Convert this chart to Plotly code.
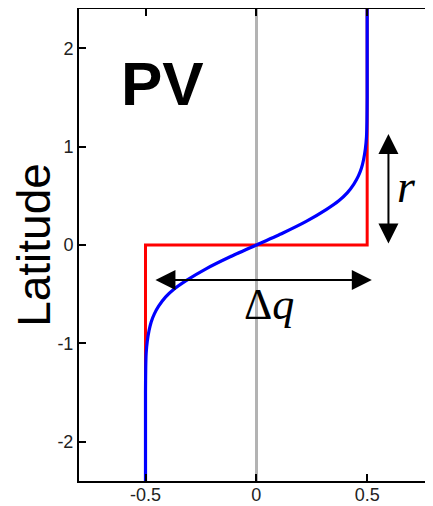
import plotly.graph_objects as go

# red step profile (PV jump)
red_lat = [-2.4, 0.0, 0.0, 2.4]
red_pv = [-0.5, -0.5, 0.5, 0.5]

# blue smoothed profile
blue_lat = [-2.4, -1.5, -1.25, -1.1, -0.98, -0.87, -0.78, -0.7, -0.62, -0.53, -0.45,
            -0.36, -0.24, -0.12, 0.0, 0.12, 0.24, 0.36, 0.45, 0.53, 0.62, 0.7, 0.78,
            0.87, 0.98, 1.1, 1.25, 1.5, 2.4]
blue_pv = [-0.5, -0.5, -0.499, -0.497, -0.492, -0.484, -0.474, -0.46, -0.44, -0.41, -0.372,
           -0.315, -0.225, -0.118, 0.0, 0.118, 0.225, 0.315, 0.372, 0.41, 0.44, 0.46, 0.474,
           0.484, 0.492, 0.497, 0.499, 0.5, 0.5]

x_ticks = [-0.5, 0, 0.5]
x_labels = ["-0.5", "0", "0.5"]
y_ticks = [-2, -1, 0, 1, 2]
y_labels = ["-2", "-1", "0", "1", "2"]

# arrow ends
r_arrow_x = 0.596
r_arrow_y = [0.0, 1.13]
dq_arrow_y = -0.356
dq_arrow_x = [-0.462, 0.521]

tick_font = dict(family="Liberation Sans Narrow, Arial Narrow, Liberation Sans, sans-serif",
                 size=18, color="#222222")

fig = go.Figure()
fig.add_trace(go.Scatter(x=red_pv, y=red_lat, mode="lines",
                         line=dict(color="#ff0000", width=3), showlegend=False))
fig.add_trace(go.Scatter(x=blue_pv, y=blue_lat, mode="lines", line_shape="spline",
                         line=dict(color="#0000ff", width=3.2, smoothing=0.5), showlegend=False))

fig.add_annotation(x=r_arrow_x, y=r_arrow_y[1], ax=r_arrow_x, ay=r_arrow_y[0],
                   xref="x", yref="y", axref="x", ayref="y", text="",
                   showarrow=True, arrowside="end+start", arrowhead=2,
                   arrowsize=2, arrowwidth=2, arrowcolor="black")
fig.add_annotation(x=dq_arrow_x[1], y=dq_arrow_y, ax=dq_arrow_x[0], ay=dq_arrow_y,
                   xref="x", yref="y", axref="x", ayref="y", text="",
                   showarrow=True, arrowside="end+start", arrowhead=2,
                   arrowsize=2, arrowwidth=2, arrowcolor="black")

fig.add_annotation(x=-0.423, y=1.64, text="<b>PV</b>", showarrow=False,
                   font=dict(family="Liberation Sans, Arial, sans-serif", size=62, color="black"))
fig.add_annotation(x=0.679, y=0.6, text="<i>r</i>", showarrow=False,
                   font=dict(family="Liberation Serif, DejaVu Serif, serif", size=46, color="black"))
fig.add_annotation(x=0.058, y=-0.6, text="Δ<i>q</i>", showarrow=False,
                   font=dict(family="Liberation Serif, DejaVu Serif, serif", size=44, color="black"))

# page body adds an 8px offset, so the figure is drawn 8px smaller
fig.update_layout(
    width=425, height=498,
    margin=dict(l=71, r=0, t=1, b=25),
    paper_bgcolor="white", plot_bgcolor="white",
    xaxis=dict(range=[-0.8, 0.797], tickvals=x_ticks, ticktext=x_labels,
               ticks="inside", ticklen=7, tickwidth=1.5, tickcolor="black",
               showline=True, linecolor="black", linewidth=2, mirror="ticks",
               showgrid=False, zeroline=True, zerolinecolor="#b3b3b3", zerolinewidth=2.5,
               tickfont=tick_font, automargin=False, ticklabelstandoff=-4),
    yaxis=dict(range=[-2.4, 2.4], tickvals=y_ticks, ticktext=y_labels,
               ticks="inside", ticklen=7, tickwidth=1.5, tickcolor="black",
               showline=True, linecolor="black", linewidth=2, mirror="ticks",
               showgrid=False, zeroline=False, tickfont=tick_font, automargin=False,
               title=dict(text="Latitude", standoff=8,
                          font=dict(family="Liberation Sans, Arial, sans-serif", size=46, color="black"))),
)

fig.write_html("out.html")
